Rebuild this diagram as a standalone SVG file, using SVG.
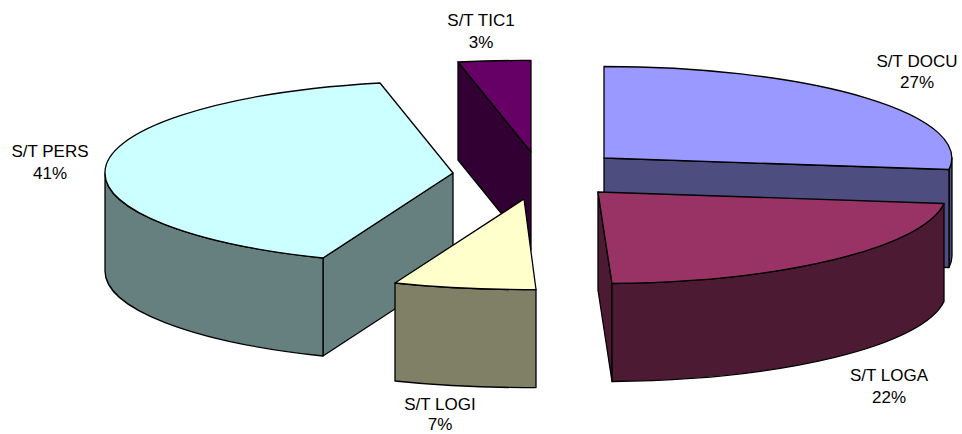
<svg xmlns="http://www.w3.org/2000/svg" width="962" height="434" viewBox="0 0 962 434">
<style>
.f{stroke:#000;stroke-width:1.3;stroke-linejoin:round}
.lbl{font-family:"Liberation Sans",Arial,sans-serif;font-size:17px;fill:#000;text-anchor:middle}
</style>
<rect width="962" height="434" fill="#fff"/>
<g id="slice-tic1">
<path class="f" fill="#330033" d="M458,62 L531,152 L531,250 L458,160 Z"/>
<path class="f" fill="#660066" d="M458,62 A347,91.5 0 0,1 531,60.5 L531,152 Z"/>
</g>
<g id="slice-pers">
<path class="f" fill="#668080" d="M323,258 L453,173 L453,271 L323,356 Z"/>
<path class="f" fill="#668080" d="M323,258 A348,91.5 0 0,1 105,173 L105,271 A348,91.5 0 0,0 323,356 Z"/>
<path class="f" fill="#CCFFFF" d="M453,173 L323,258 A348,91.5 0 0,1 105,173 A348,91.5 0 0,1 380,83 Z"/>
</g>
<g id="slice-docu">
<path class="f" fill="#4D4D80" d="M952,158 A348,91.5 0 0,1 949,169.5 L949,267.5 A348,91.5 0 0,0 952,256 Z"/>
<path class="f" fill="#4D4D80" d="M604,158 L949,169.5 L949,267.5 L604,256 Z"/>
<path class="f" fill="#9999FF" d="M604,158 L604,66.5 A348,91.5 0 0,1 949,169.5 Z"/>
</g>
<g id="slice-loga">
<path class="f" fill="#4D1A33" d="M598,192 L612,283.5 L612,381.5 L598,290 Z"/>
<path class="f" fill="#4D1A33" d="M944,203.5 A347,91.5 0 0,1 612,283.5 L612,381.5 A347,91.5 0 0,0 944,301.5 Z"/>
<path class="f" fill="#993366" d="M598,192 L944,203.5 A347,91.5 0 0,1 612,283.5 Z"/>
</g>
<g id="slice-logi">
<path class="f" fill="#808066" d="M536,289.5 A347,91.5 0 0,1 395,283 L395,381 A347,91.5 0 0,0 536,387.5 Z"/>
<path class="f" fill="#FFFFCC" d="M524,199 L536,289.5 A347,91.5 0 0,1 395,283 Z"/>
</g>
<g id="labels">
<text class="lbl" x="481" y="26">S/T TIC1</text>
<text class="lbl" x="481" y="48">3%</text>
<text class="lbl" x="917" y="67">S/T DOCU</text>
<text class="lbl" x="917" y="88">27%</text>
<text class="lbl" x="50" y="157">S/T PERS</text>
<text class="lbl" x="50" y="179">41%</text>
<text class="lbl" x="889" y="381">S/T LOGA</text>
<text class="lbl" x="889" y="403">22%</text>
<text class="lbl" x="440" y="410">S/T LOGI</text>
<text class="lbl" x="440" y="430">7%</text>
</g>
</svg>
